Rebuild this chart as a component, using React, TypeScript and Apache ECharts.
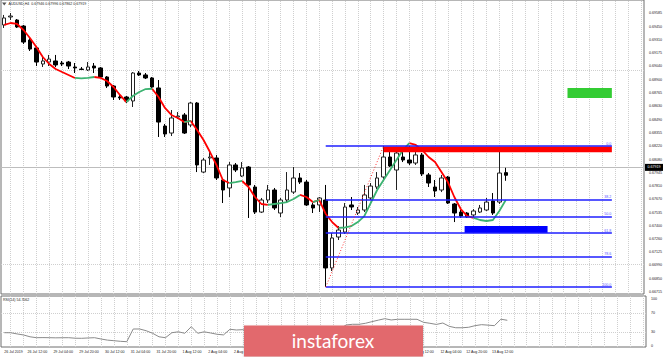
import React, { useEffect, useRef } from "react";
import * as echarts from "echarts";

// ---- data (H4 bars, AUDUSD) ----
const opens = [0.69467, 0.69549, 0.69518, 0.69456, 0.69312, 0.6923, 0.69065, 0.69085, 0.69096, 0.69075,
  0.69085, 0.69034, 0.69013, 0.69003, 0.69044, 0.69024, 0.68931, 0.68838, 0.68725, 0.68725,
  0.68684, 0.68972, 0.68952, 0.68921, 0.68818, 0.68426, 0.68354, 0.68519, 0.6854, 0.68437,
  0.68663, 0.67952, 0.68097, 0.68097, 0.6787, 0.67788, 0.68025, 0.67911, 0.68004, 0.67798,
  0.6754, 0.67664, 0.67767, 0.6753, 0.67664, 0.67746, 0.67891, 0.67849, 0.67613, 0.67613,
  0.67664, 0.66964, 0.67283, 0.67334, 0.67613, 0.6753, 0.67561, 0.67685, 0.67798, 0.67901,
  0.68107, 0.67973, 0.68107, 0.68076, 0.68045, 0.68128, 0.67922, 0.67798, 0.67767, 0.67901,
  0.67623, 0.6754, 0.6753, 0.6751, 0.6754, 0.67561, 0.67654, 0.67643, 0.67946];
const highs = [0.6957, 0.6959, 0.69528, 0.69467, 0.69333, 0.6925, 0.69137, 0.69158, 0.69158, 0.69096,
  0.69096, 0.69075, 0.69034, 0.69085, 0.69075, 0.69034, 0.68941, 0.68849, 0.68756, 0.68735,
  0.68982, 0.68993, 0.68972, 0.68931, 0.689, 0.68447, 0.68591, 0.6857, 0.6856, 0.68673,
  0.68673, 0.68097, 0.68179, 0.68128, 0.67891, 0.68055, 0.68045, 0.68055, 0.68014, 0.67819,
  0.67685, 0.67819, 0.67788, 0.67685, 0.67952, 0.68004, 0.67942, 0.6787, 0.67633, 0.67695,
  0.67819, 0.67324, 0.67396, 0.67633, 0.67695, 0.67592, 0.67819, 0.67839, 0.67952, 0.6822,
  0.68179, 0.6821, 0.68179, 0.6822, 0.68158, 0.68148, 0.67942, 0.6787, 0.67922, 0.67911,
  0.67633, 0.67561, 0.6754, 0.67571, 0.67613, 0.67685, 0.67736, 0.68189, 0.67996];
const lows = [0.69436, 0.69518, 0.69436, 0.69271, 0.69199, 0.69044, 0.69034, 0.69044, 0.69034, 0.69044,
  0.69013, 0.68972, 0.69003, 0.68993, 0.68972, 0.68921, 0.68818, 0.68694, 0.68694, 0.68663,
  0.68622, 0.68941, 0.6891, 0.68818, 0.68313, 0.68313, 0.68323, 0.68498, 0.68344, 0.68416,
  0.67952, 0.67942, 0.68025, 0.6787, 0.67633, 0.67695, 0.67952, 0.67901, 0.67479, 0.6752,
  0.6753, 0.67633, 0.67561, 0.67489, 0.67643, 0.67726, 0.67829, 0.67602, 0.6753, 0.6754,
  0.66768, 0.66933, 0.67252, 0.67314, 0.67561, 0.6751, 0.6754, 0.67664, 0.67777, 0.6788,
  0.68004, 0.67767, 0.68055, 0.68025, 0.68025, 0.67911, 0.67798, 0.67695, 0.67746, 0.67623,
  0.67437, 0.67479, 0.67479, 0.67489, 0.6753, 0.67551, 0.6751, 0.67623, 0.67862];
const closes = [0.69539, 0.69559, 0.69446, 0.69291, 0.69219, 0.69085, 0.69096, 0.69116, 0.69055, 0.69065,
  0.69044, 0.69024, 0.69008, 0.69034, 0.69024, 0.68931, 0.68838, 0.68725, 0.68715, 0.68684,
  0.68972, 0.68952, 0.68921, 0.68828, 0.68467, 0.68344, 0.68509, 0.68529, 0.68354, 0.68663,
  0.68025, 0.68076, 0.68107, 0.67891, 0.67767, 0.68025, 0.67973, 0.67994, 0.67819, 0.6754,
  0.67664, 0.67767, 0.67582, 0.67664, 0.67767, 0.67891, 0.67849, 0.67613, 0.67582, 0.67685,
  0.66964, 0.67273, 0.67355, 0.67592, 0.67592, 0.67561, 0.67716, 0.67808, 0.67891, 0.68107,
  0.68014, 0.68148, 0.68076, 0.68045, 0.68128, 0.67932, 0.67839, 0.67757, 0.67891, 0.67633,
  0.6753, 0.67499, 0.67489, 0.67551, 0.67582, 0.67643, 0.6753, 0.67942, 0.67919];
const maValues = [0.69467, 0.69487, 0.69477, 0.69415, 0.69333, 0.6924, 0.69137, 0.69065, 0.69013, 0.68982,
  0.68952, 0.68921, 0.68916, 0.68921, 0.68931, 0.68921, 0.6889, 0.68828, 0.68746, 0.68673,
  0.68735, 0.68776, 0.68807, 0.6881, 0.68725, 0.68612, 0.6854, 0.68509, 0.68467, 0.68478,
  0.68385, 0.68282, 0.68158, 0.68025, 0.6787, 0.67839, 0.67849, 0.6786, 0.67798, 0.67695,
  0.67623, 0.67613, 0.67623, 0.67633, 0.67643, 0.67674, 0.67716, 0.67695, 0.67643, 0.67664,
  0.6752, 0.67437, 0.67376, 0.67381, 0.67396, 0.67437, 0.67499, 0.67633, 0.67767, 0.6787,
  0.67973, 0.68076, 0.68179, 0.68251, 0.68231, 0.68179, 0.68107, 0.68055, 0.67952, 0.67849,
  0.67695, 0.67571, 0.67499, 0.67479, 0.67458, 0.67448, 0.67458, 0.67551, 0.67664];
// bar ranges over which the moving average is drawn green
const maGreenRuns = [[11, 14], [19, 23], [28, 29], [35, 37], [41, 46], [48, 49], [52, 63], [73, 78]];
const rsiValues = [28.6, 28.5, 26, 23.8, 20, 18.1, 18.3, 18.1, 17.8, 18,
  18.1, 17, 16.8, 17.5, 18.1, 15.4, 13, 11.8, 10.5, 9.7,
  36.4, 36.4, 32.8, 27.4, 20, 18.1, 28.6, 30.5, 27.4, 41.3,
  27.4, 30.5, 28, 25.3, 24, 35.8, 34.3, 35, 28, 22,
  28, 33, 27, 32, 36, 42, 40, 33, 32, 36,
  20, 32, 36, 44.8, 46.3, 46.3, 48.4, 51.8, 55, 58.1,
  55.4, 56.8, 56.8, 56.8, 56.8, 50.5, 48.4, 46, 49, 42,
  39, 39, 40, 43.4, 45.5, 44.5, 43.4, 57, 54.7];
const timeLabels = ["26 Jul 2019", "26 Jul 12:00", "29 Jul 04:00", "29 Jul 20:00", "30 Jul 12:00",
  "31 Jul 04:00", "31 Jul 20:00", "1 Aug 12:00", "2 Aug 04:00", "2 Aug 20:00", "5 Aug 12:00",
  "6 Aug 04:00", "6 Aug 20:00", "7 Aug 12:00", "8 Aug 04:00", "8 Aug 20:00", "9 Aug 12:00",
  "12 Aug 04:00", "12 Aug 20:00", "13 Aug 12:00"];
const priceTicks = [0.66715, 0.6685, 0.6699, 0.67125, 0.6726, 0.674, 0.67535, 0.6767, 0.6781, 0.67945,
  0.6808, 0.6822, 0.68355, 0.6849, 0.6863, 0.68765, 0.689, 0.6904, 0.69175, 0.6931, 0.6945, 0.69585];
const rsiTicks = [0, 30, 70, 100];
const fibLevels = [0, 38.2, 50, 61.8, 78.6, 100];
const fibLabels = ["0.0", "38.2", "50.0", "61.8", "78.6", "100.0"];
const fibLow = 0.66768;
const fibHigh = 0.6822;
const fibLowBar = 50;
const fibHighBar = 59;
const objectsEndBar = 94.5;
const redZone = { from: 59, to: 94.5, top: 0.68215, bottom: 0.68155 };
const blueZone = { from: 71.6, to: 84.5, top: 0.67396, bottom: 0.67324 };
const greenZone = { from: 87.6, to: 94.5, top: 0.68818, bottom: 0.68715 };
const currentPrice = 0.67919;
const headerText = "AUDUSD,H4  0.67946 0.67996 0.67862 0.67919";
const rsiHeaderText = "RSI(14) 54.7062";
const bannerText = "instaforex";

const SLOTS = 100;
const FS = 3.6;
const TXT = "#222";
const FONT = "Liberation Sans, Arial, sans-serif";

export default function App() {
  const ref = useRef<HTMLDivElement>(null);
  useEffect(() => {
    if (!ref.current) return;
    const chart = echarts.init(ref.current, null, { renderer: "svg" });

    const n = opens.length;
    const cats = Array.from({ length: SLOTS }, (_, i) => {
      if (i === 0) return timeLabels[0];
      if ((i - 3) % 4 === 0) {
        const k = (i - 3) / 4 + 1;
        if (k < timeLabels.length) return timeLabels[k];
      }
      return "";
    });
    const candles = opens.map((o, i) => [o, closes[i], lows[i], highs[i]]);
    const segGreen = (i: number) => maGreenRuns.some(([a, b]) => i > a && i <= b);
    const maRed: (number | null)[] = [];
    const maGreen: (number | null)[] = [];
    for (let i = 0; i < n; i++) {
      const inSeg = (g: boolean) =>
        (i > 0 && segGreen(i) === g) || (i + 1 < n && segGreen(i + 1) === g);
      maRed.push(inSeg(false) ? maValues[i] : null);
      maGreen.push(inSeg(true) ? maValues[i] : null);
    }

    const oddBars = Array.from({ length: SLOTS / 2 }, (_, k) => 2 * k + 1);
    const gridDot = { color: "#cfcfcf", type: "dotted" as const, width: 1 };

    const fibLines = fibLevels.map((l, k) => {
      const p = fibHigh - ((fibHigh - fibLow) * l) / 100;
      const label = { show: true, formatter: fibLabels[k] };
      return [
        { coord: [fibLowBar, p], label },
        { coord: [objectsEndBar, p], label },
      ];
    });

    const zone = (z: { from: number; to: number; top: number; bottom: number }, color: string) => [
      { coord: [z.from, z.top], itemStyle: { color, opacity: 1 } },
      { coord: [z.to, z.bottom] },
    ];

    chart.setOption({
      animation: false,
      backgroundColor: "#ffffff",
      textStyle: { fontFamily: FONT },
      grid: [
        { left: 1, right: 19, top: 0, height: 294, show: true, borderColor: "#6e6e6e", borderWidth: 1, backgroundColor: "transparent" },
        { left: 1, right: 19, top: 296, height: 51, show: true, borderColor: "#6e6e6e", borderWidth: 1, backgroundColor: "transparent" },
      ],
      xAxis: [
        { type: "category", gridIndex: 0, data: cats, boundaryGap: true, axisLabel: { show: false }, axisTick: { show: false }, axisLine: { show: false }, splitLine: { show: false } },
        { type: "value", gridIndex: 0, min: -0.5, max: SLOTS - 0.5, show: false, splitLine: { show: false } },
        {
          type: "category", gridIndex: 1, data: cats, boundaryGap: true,
          axisLine: { show: false }, axisTick: { show: false }, splitLine: { show: false },
          axisLabel: {
            interval: 0, align: "left", margin: 3, fontSize: FS, color: TXT, fontFamily: FONT,
            formatter: (v: string, idx: number) => (v === "" ? "" : idx === 0 ? v : `{p|${v}}`),
            rich: { p: { padding: [0, 0, 0, 4], fontSize: FS, color: TXT, fontFamily: FONT } },
          },
        },
        { type: "value", gridIndex: 1, min: -0.5, max: SLOTS - 0.5, show: false, splitLine: { show: false } },
      ],
      yAxis: [
        {
          type: "value", gridIndex: 0, position: "right", min: 0.66696, max: 0.69724,
          axisLine: { show: false }, axisTick: { show: false }, splitLine: { show: false },
          axisLabel: { customValues: priceTicks, formatter: (v: number) => v.toFixed(5), fontSize: FS, color: TXT, margin: 5, fontFamily: FONT },
        },
        {
          type: "value", gridIndex: 1, position: "right", min: -1.47, max: 105.78,
          axisLine: { show: false }, axisTick: { show: false }, splitLine: { show: false },
          axisLabel: { customValues: rsiTicks, formatter: (v: number) => String(v), fontSize: FS, color: TXT, margin: 5, fontFamily: FONT },
        },
      ],
      series: [
        {
          type: "line", xAxisIndex: 1, yAxisIndex: 0, data: [], z: 0, silent: true,
          markLine: {
            silent: true, symbol: ["none", "none"], animation: false, z: 0,
            label: { show: false }, lineStyle: gridDot,
            data: [
              ...priceTicks.map((v) => ({ yAxis: v })),
              ...oddBars.map((b) => ({ xAxis: b })),
            ],
          },
        },
        {
          type: "line", xAxisIndex: 3, yAxisIndex: 1, data: [], z: 0, silent: true,
          markLine: {
            silent: true, symbol: ["none", "none"], animation: false, z: 0,
            label: { show: false }, lineStyle: gridDot,
            data: [
              { yAxis: 30 }, { yAxis: 70 },
              ...oddBars.map((b) => ({ xAxis: b })),
            ],
          },
        },
        {
          type: "line", xAxisIndex: 1, yAxisIndex: 0, data: [], z: 1, silent: true,
          markLine: {
            silent: true, symbol: ["none", "none"], animation: false, z: 1,
            data: [
              {
                yAxis: currentPrice,
                lineStyle: { color: "#bdbdbd", type: "solid", width: 1 },
                label: {
                  show: true, position: "end", distance: 1, formatter: currentPrice.toFixed(5),
                  backgroundColor: "#000", color: "#fff", fontSize: FS, padding: [1.5, 2.5], fontFamily: FONT,
                },
              },
            ],
          },
        },
        {
          type: "candlestick", xAxisIndex: 0, yAxisIndex: 0, data: candles, barWidth: 4, z: 2,
          itemStyle: { color: "#ffffff", color0: "#000000", borderColor: "#222", borderColor0: "#000", borderWidth: 1 },
        },
        {
          type: "line", xAxisIndex: 0, yAxisIndex: 0, data: maRed, symbol: "none", connectNulls: false, z: 3,
          lineStyle: { color: "#ff0000", width: 1.8 },
        },
        {
          type: "line", xAxisIndex: 0, yAxisIndex: 0, data: maGreen, symbol: "none", connectNulls: false, z: 3,
          lineStyle: { color: "#3cb371", width: 1.8 },
        },
        {
          type: "line", xAxisIndex: 1, yAxisIndex: 0, data: [], z: 4, silent: true,
          markArea: {
            silent: true, z: 4,
            data: [zone(redZone, "#ff0000"), zone(blueZone, "#0000ff"), zone(greenZone, "#33cc33")],
          },
          markLine: {
            silent: true, symbol: ["none", "none"], animation: false, z: 5,
            lineStyle: { color: "#1f1fff", type: "solid", width: 1.6 },
            label: { show: true, position: "insideEndTop", distance: 0.5, fontSize: FS, color: "#5555ff", fontFamily: FONT },
            data: fibLines,
          },
        },
        {
          type: "line", xAxisIndex: 1, yAxisIndex: 0, data: [], z: 4, silent: true,
          markLine: {
            silent: true, symbol: ["none", "none"], animation: false, z: 5,
            label: { show: false },
            lineStyle: { color: "#ff3030", type: [1, 2], width: 1 },
            data: [[{ coord: [fibLowBar, fibLow] }, { coord: [fibHighBar, fibHigh] }]],
          },
        },
        {
          type: "line", xAxisIndex: 2, yAxisIndex: 1, data: rsiValues, symbol: "none", z: 3,
          lineStyle: { color: "#8a8a8a", width: 1 },
        },
      ],
      graphic: [
        { type: "polygon", shape: { points: [[2, 2.5], [6.5, 2.5], [4.25, 5.5]] }, style: { fill: "#555" }, z: 50 },
        { type: "text", x: 8.5, y: 4, style: { text: headerText, fontSize: FS, fill: TXT, fontFamily: FONT, verticalAlign: "middle" }, z: 50 },
        { type: "text", x: 3, y: 299.5, style: { text: rsiHeaderText, fontSize: FS, fill: TXT, fontFamily: FONT, verticalAlign: "middle" }, z: 50 },
        {
          type: "group", z: 100,
          children: [
            { type: "rect", shape: { x: 244, y: 325.5, width: 179, height: 31 }, style: { fill: "#e2696d", shadowBlur: 2, shadowColor: "rgba(0,0,0,0.25)", shadowOffsetY: 1 }, z: 100 },
            { type: "text", x: 333, y: 340, style: { text: bannerText, fontSize: 19, fill: "#ffffff", fontFamily: "Lato, Open Sans, sans-serif", align: "center", verticalAlign: "middle" }, z: 101 },
          ],
        },
      ],
    });
    return () => chart.dispose();
  }, []);
  return <div ref={ref} style={{ position: "fixed", left: 0, top: 0, width: 665, height: 357 }} />;
}
